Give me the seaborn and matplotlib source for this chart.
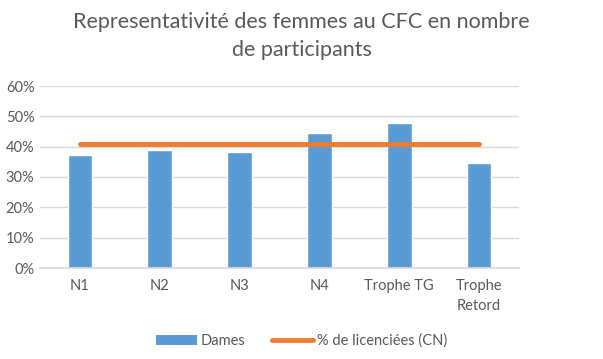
import matplotlib
matplotlib.use("Agg")
import matplotlib.pyplot as plt
import seaborn as sns
import pandas as pd
from matplotlib.patches import Patch
from matplotlib.lines import Line2D
from matplotlib.ticker import PercentFormatter

categories = ["N1", "N2", "N3", "N4", "Trophe TG", "Trophe\nRetord"]
dames = [0.373, 0.389, 0.383, 0.446, 0.479, 0.346]
licenciees = [0.41, 0.41, 0.41, 0.41, 0.41, 0.41]
title = "Representativité des femmes au CFC en nombre\nde participants"

sns.set_theme(style="white")
plt.rcParams["font.family"] = ["Lato", "DejaVu Sans"]

blue = "#5b9bd5"
orange = "#ed7d31"
gray_text = "#595959"

df = pd.DataFrame({"cat": categories, "dames": dames, "lic": licenciees})

fig = plt.figure(figsize=(6.03, 3.59), dpi=100)
ax = fig.add_axes([40 / 603, 1 - 268 / 359, 479 / 603, 182 / 359])

sns.barplot(data=df, x="cat", y="dames", color=blue, width=0.31,
            saturation=1, ax=ax, zorder=2)
sns.pointplot(data=df, x="cat", y="lic", color=orange, markers="",
              errorbar=None, linewidth=3.5, ax=ax, zorder=3)

ax.set_ylim(0, 0.6)
ax.set_xlim(-0.5, 5.5)
ax.set_yticks([0, 0.1, 0.2, 0.3, 0.4, 0.5, 0.6])
ax.yaxis.set_major_formatter(PercentFormatter(1.0, decimals=0))
ax.grid(axis="y", color="#d9d9d9", linewidth=1, zorder=0)
ax.set_axisbelow(True)
for s in ["top", "right", "left"]:
    ax.spines[s].set_visible(False)
ax.spines["bottom"].set_color("#d9d9d9")
ax.set_xlabel("")
ax.set_ylabel("")
ax.tick_params(axis="both", length=0, labelsize=10.5, colors=gray_text)
ax.tick_params(axis="x", pad=8)
ax.tick_params(axis="y", pad=4)
for lbl in ax.get_xticklabels():
    lbl.set_linespacing(1.55)

fig.text(0.5, 1 - 36 / 359, title, ha="center", va="center", fontsize=15.5,
         color=gray_text, linespacing=1.5)

handles = [Patch(facecolor=blue, edgecolor="none"),
           Line2D([0], [0], color=orange, linewidth=3.5)]
fig.legend(handles, ["Dames", "% de licenciées (CN)"], loc="center",
           bbox_to_anchor=(0.5, 1 - 341 / 359), ncol=2, frameon=False,
           fontsize=10.5, labelcolor=gray_text, handlelength=2.8,
           handleheight=0.6, columnspacing=1.8, handletextpad=0.3)

fig.savefig("out.png", dpi=100)
